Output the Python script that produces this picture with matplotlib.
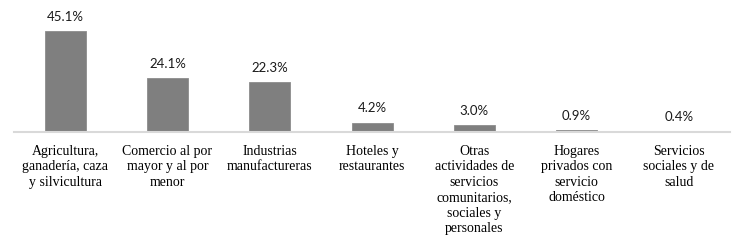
import matplotlib.pyplot as plt
import numpy as np

categories = [
    "Agricultura,\nganadería, caza\ny silvicultura",
    "Comercio al por\nmayor y al por\nmenor",
    "Industrias\nmanufactureras",
    "Hoteles y\nrestaurantes",
    "Otras\nactividades de\nservicios\ncomunitarios,\nsociales y\npersonales",
    "Hogares\nprivados con\nservicio\ndoméstico",
    "Servicios\nsociales y de\nsalud",
]
shares = [45.1, 24.1, 22.3, 4.2, 3.0, 0.9, 0.4]
value_labels = [f"{v:.1f}%" for v in shares]

fig = plt.figure(figsize=(7.36, 2.41), dpi=100)
ax = fig.add_axes([0.019, 0.452, 0.973, 0.548])

x = np.arange(len(categories))
bars = ax.bar(x, shares, width=0.4, color="#7f7f7f", edgecolor="#8c8c8c", lw=0.6)

for b, lab in zip(bars, value_labels):
    ax.annotate(lab, (b.get_x() + b.get_width() / 2, b.get_height()),
                xytext=(0, 6), textcoords="offset points",
                ha="center", va="bottom", fontsize=9.5,
                family="Lato", color="#1a1a1a")

ax.set_xlim(-0.5, len(categories) - 0.5)
ax.set_ylim(0, 58.9)
ax.set_yticks([])
ax.set_xticks(x)
ax.set_xticklabels(categories, family="Liberation Serif", fontsize=10,
                   linespacing=1.25)
ax.tick_params(axis="x", length=0, pad=9)

for side in ("top", "right", "left"):
    ax.spines[side].set_visible(False)
ax.spines["bottom"].set_color("#d9d9d9")
ax.spines["bottom"].set_linewidth(1.5)

fig.savefig("out.png", dpi=100)
